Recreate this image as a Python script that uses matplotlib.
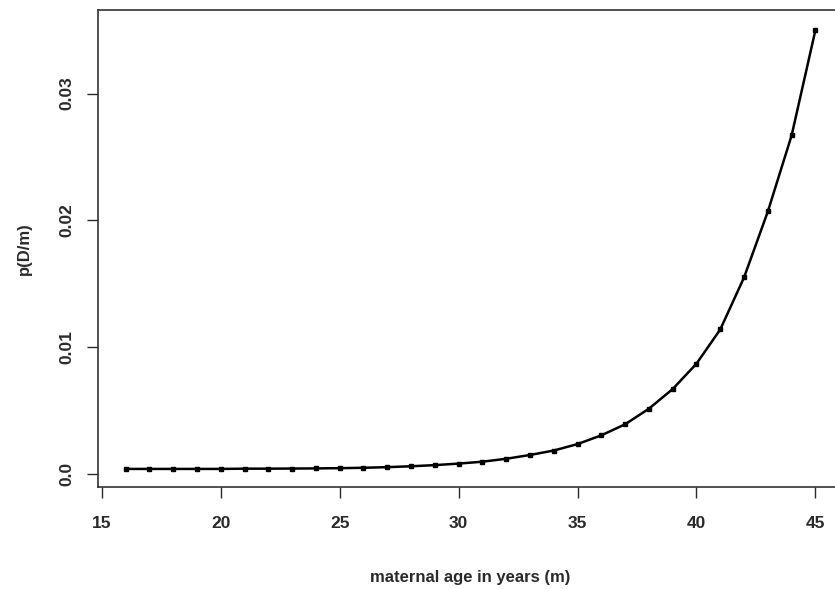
import numpy as np
from matplotlib import pyplot as plt

plt.rcParams['font.family'] = ['Liberation Sans', 'DejaVu Sans']

# maternal age and risk p(D/m)
age = list(range(16, 46))
risk = [0.00040, 0.00040, 0.00040, 0.00040, 0.00040, 0.00042, 0.00042, 0.00043,
        0.00044, 0.00046, 0.00049, 0.00054, 0.00061, 0.00070, 0.00082, 0.00097,
        0.00120, 0.00150, 0.00185, 0.00236, 0.00305, 0.00392, 0.00515, 0.00670,
        0.00870, 0.01140, 0.01550, 0.02070, 0.02670, 0.03500]
xticks = [15, 20, 25, 30, 35, 40, 45]
yticks = [0.0, 0.01, 0.02, 0.03]
ytick_labels = ["0.0", "0.01", "0.02", "0.03"]

fig = plt.figure(figsize=(8.35, 5.89), dpi=100)
ax = fig.add_axes([0.1174, 0.1732, 0.8922, 0.8098])

ax.plot(age, risk, color="black", linewidth=1.8, marker="s", markersize=3.2)

# R style limits (4% padding)
xr = max(age) - min(age)
ax.set_xlim(min(age) - 0.04 * xr, max(age) + 0.04 * xr)
yr = max(risk) - min(risk)
ax.set_ylim(min(risk) - 0.04 * yr - 0.00004, max(risk) + 0.04 * yr + 0.0002)

ax.set_xticks(xticks)
ax.set_xticklabels([str(t) for t in xticks], fontweight="bold")
ax.set_yticks(yticks)
ax.set_yticklabels(ytick_labels, rotation=90, va="center", fontweight="bold")
ax.tick_params(axis="both", direction="out", length=8, width=1, labelsize=12.5, colors="#2a2a2a")
ax.tick_params(axis="x", pad=13)
ax.tick_params(axis="y", pad=9)
for s in ax.spines.values():
    s.set_linewidth(1.2)
    s.set_color("#333333")

ax.set_xlabel("maternal age in years (m)", fontsize=12, fontweight="bold", color="#2a2a2a", labelpad=28)
ax.set_ylabel("p(D/m)", fontsize=12, fontweight="bold", color="#2a2a2a", labelpad=20)

fig.savefig("out.png", dpi=100)
